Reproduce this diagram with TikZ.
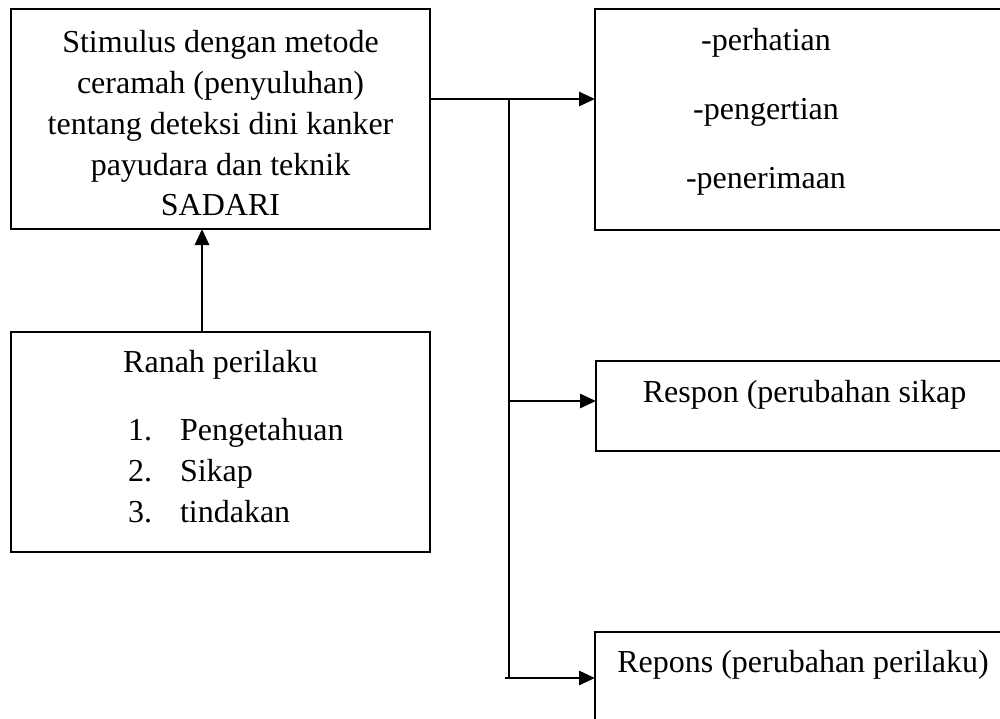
\documentclass[tikz,border=0pt]{standalone}
\usepackage{fontspec}
\setmainfont{Liberation Serif}
\usetikzlibrary{arrows.meta}
\begin{document}
\begin{tikzpicture}[x=1pt,y=-1pt,
  box/.style={draw, line width=2pt, inner sep=0pt, outer sep=0pt, anchor=north west},
  txt/.style={font=\fontsize{32}{40}\selectfont, inner sep=0pt, outer sep=0pt},
  conn/.style={line width=2.8pt, -{Triangle[length=16pt,width=14pt]}},
  trunkline/.style={line width=2pt}]
\useasboundingbox (0,0) rectangle (1000,718);
\clip (0,0) rectangle (1000,718);
% boxes
\node[box, minimum width=419pt, minimum height=220pt] (stim) at (11,9) {};
\node[box, minimum width=419pt, minimum height=220pt] (ranah) at (11,332) {};
\node[box, minimum width=430pt, minimum height=221pt] (resp1) at (595,9) {};
\node[box, minimum width=430pt, minimum height=90pt] (resp2) at (596,361) {};
\node[box, minimum width=430pt, minimum height=120pt] (resp3) at (595,632) {};
% texts box 1
\foreach \k/\t/\y in {1/Stimulus dengan metode/52, 2/ceramah (penyuluhan)/93, 3/tentang deteksi dini kanker/134, 4/payudara dan teknik/175, 5/SADARI/215}
  \node[txt, anchor=base] (s\k) at (220.5,\y) {\t};
% texts box 2
\node[txt, anchor=base] (rh) at (220.5,372) {Ranah perilaku};
\foreach \n/\t/\y in {1/Pengetahuan/440, 2/Sikap/481, 3/tindakan/522} {
  \node[txt, anchor=base west] (num\n) at (128,\y) {\n.};
  \node[txt, anchor=base west] (item\n) at (180,\y) {\t};
}
% texts right boxes
\foreach \k/\t/\y in {1/-perhatian/50, 2/-pengertian/119, 3/-penerimaan/188}
  \node[txt, anchor=base] (p\k) at (766,\y) {\t};
\node[txt, anchor=base] (r2) at (804.5,402) {Respon (perubahan sikap};
\node[txt, anchor=base] (r3) at (803,672) {Repons (perubahan perilaku)};
% connectors
\coordinate (jt) at (509,99);
\coordinate (jm) at (509,401);
\coordinate (jb) at (509,678);
\coordinate (jbs) at (505,678);
\coordinate (up) at (202,0);
\draw[conn] (stim.east |- jt) -- (resp1.west |- jt);
\draw[trunkline] (jt) -- (jb);
\draw[conn] (jm) -- (resp2.west |- jm);
\draw[conn] (jbs) -- (resp3.west |- jbs);
\draw[conn] (ranah.north -| up) -- (stim.south -| up);
\end{tikzpicture}
\end{document}
